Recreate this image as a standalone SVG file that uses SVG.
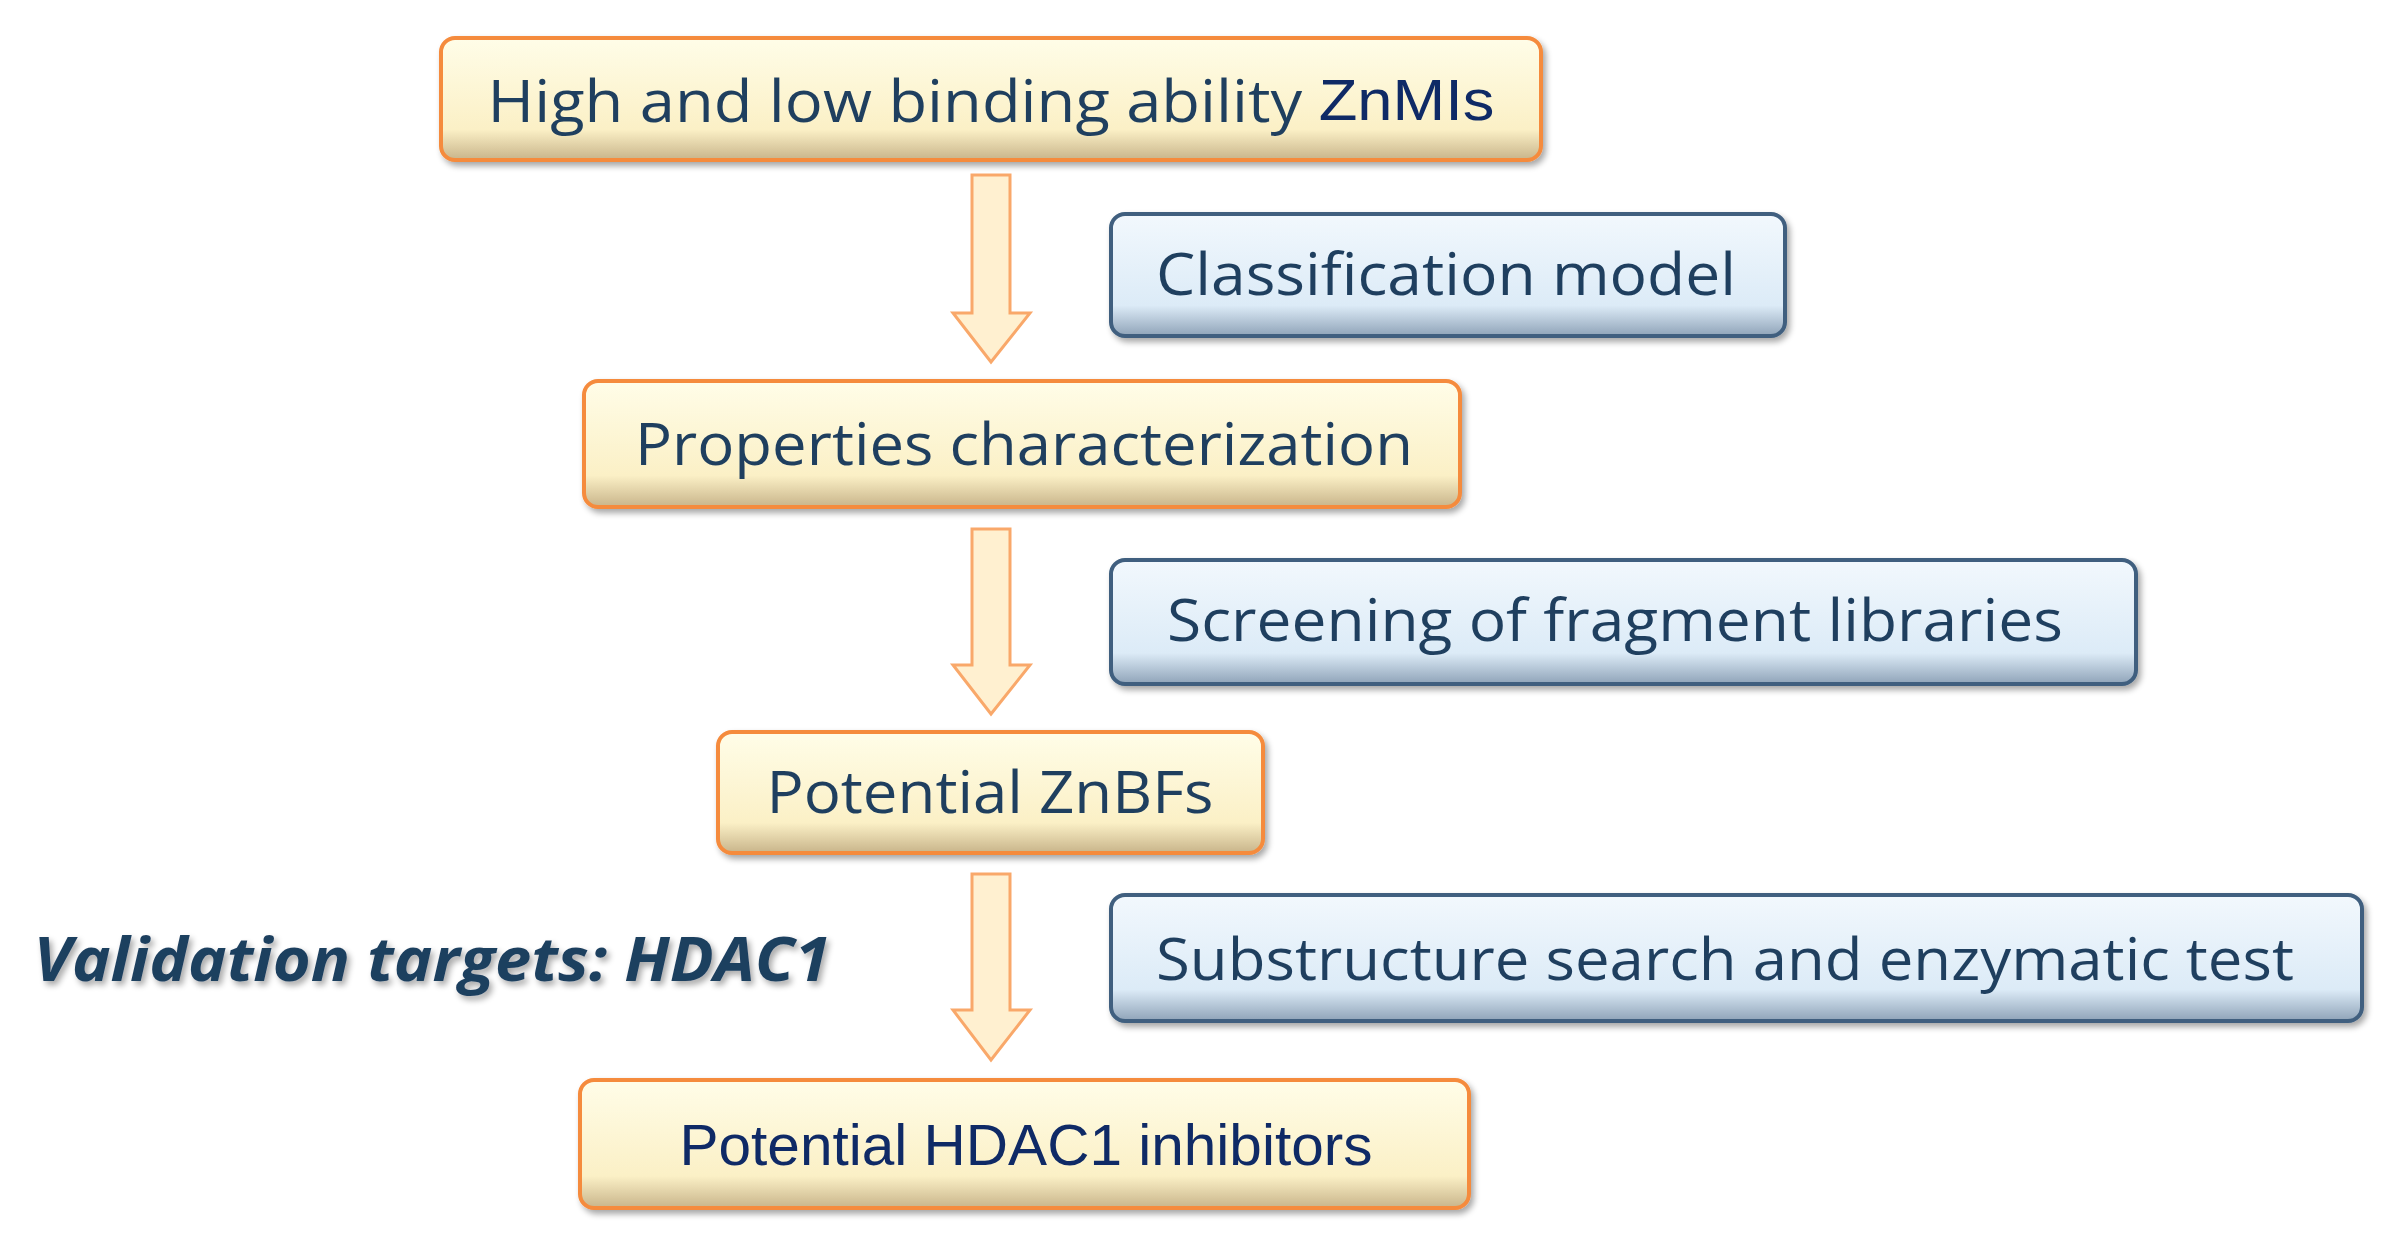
<svg xmlns="http://www.w3.org/2000/svg" width="2392" height="1240" viewBox="0 0 2392 1240">
<defs>
<linearGradient id="og" x1="0" y1="0" x2="0" y2="1"><stop offset="0" stop-color="#fffde8"/><stop offset="0.75" stop-color="#fbf0c6"/><stop offset="1" stop-color="#c8b48a"/></linearGradient>
<linearGradient id="bg" x1="0" y1="0" x2="0" y2="1"><stop offset="0" stop-color="#f2f8fd"/><stop offset="0.75" stop-color="#dcebf7"/><stop offset="1" stop-color="#8fa3b8"/></linearGradient>
<filter id="sh" x="-5%" y="-20%" width="110%" height="150%"><feGaussianBlur in="SourceAlpha" stdDeviation="3"/><feOffset dx="3" dy="4"/><feComponentTransfer><feFuncA type="linear" slope="0.35"/></feComponentTransfer><feMerge><feMergeNode/><feMergeNode in="SourceGraphic"/></feMerge></filter>
</defs>
<style>
.o{fill:url(#og);stroke:#f58b3c;stroke-width:4}
.b{fill:url(#bg);stroke:#3f5f7f;stroke-width:4}
.t{font-family:"Open Sans","DejaVu Sans",sans-serif;font-size:58px;fill:#1f3f5f;text-anchor:middle;dominant-baseline:central}
.a{font-family:"Liberation Sans",Arial,sans-serif;fill:#0f2a66}
.ar{fill:#fff0d0;stroke:#f9a86a;stroke-width:3}
</style>
<g id="n1"><rect class="o" x="441" y="38" width="1100" height="122" rx="14" filter="url(#sh)"/><text class="t" x="991" y="99" textLength="1007" lengthAdjust="spacingAndGlyphs">High and low binding ability <tspan class="a">ZnMIs</tspan></text></g>
<g id="n2"><rect class="b" x="1111" y="214" width="674" height="122" rx="14" filter="url(#sh)"/><text class="t" x="1446" y="272" textLength="580" lengthAdjust="spacingAndGlyphs">Classification model</text></g>
<g id="n3"><rect class="o" x="584" y="381" width="876" height="126" rx="14" filter="url(#sh)"/><text class="t" x="1024" y="442" textLength="778" lengthAdjust="spacingAndGlyphs">Properties characterization</text></g>
<g id="n4"><rect class="b" x="1111" y="560" width="1025" height="124" rx="14" filter="url(#sh)"/><text class="t" x="1615" y="618" textLength="896" lengthAdjust="spacingAndGlyphs">Screening of fragment libraries</text></g>
<g id="n5"><rect class="o" x="718" y="732" width="545" height="121" rx="14" filter="url(#sh)"/><text class="t" x="990" y="790" textLength="447" lengthAdjust="spacingAndGlyphs">Potential ZnBFs</text></g>
<g id="n6"><rect class="b" x="1111" y="895" width="1251" height="126" rx="14" filter="url(#sh)"/><text class="t" x="1725" y="957" textLength="1138" lengthAdjust="spacingAndGlyphs">Substructure search and enzymatic test</text></g>
<g id="n7"><rect class="o" x="580" y="1080" width="889" height="128" rx="14" filter="url(#sh)"/><text class="t a" x="1026" y="1144" font-size="56" textLength="693" lengthAdjust="spacingAndGlyphs">Potential HDAC1 inhibitors</text></g>
<g id="label"><text x="432" y="958" font-family="'Open Sans','DejaVu Sans',sans-serif" font-size="60" font-weight="bold" font-style="italic" fill="#1f3f5f" text-anchor="middle" dominant-baseline="central" textLength="797" lengthAdjust="spacingAndGlyphs" filter="url(#sh)">Validation targets: HDAC1</text></g>
<g id="connectors">
<polygon class="ar" points="972,175 1010,175 1010,313 1030,313 991,362 953,313 972,313"/>
<polygon class="ar" points="972,529 1010,529 1010,665 1030,665 991,714 953,665 972,665"/>
<polygon class="ar" points="972,874 1010,874 1010,1010 1030,1010 991,1060 953,1010 972,1010"/>
</g>
</svg>
